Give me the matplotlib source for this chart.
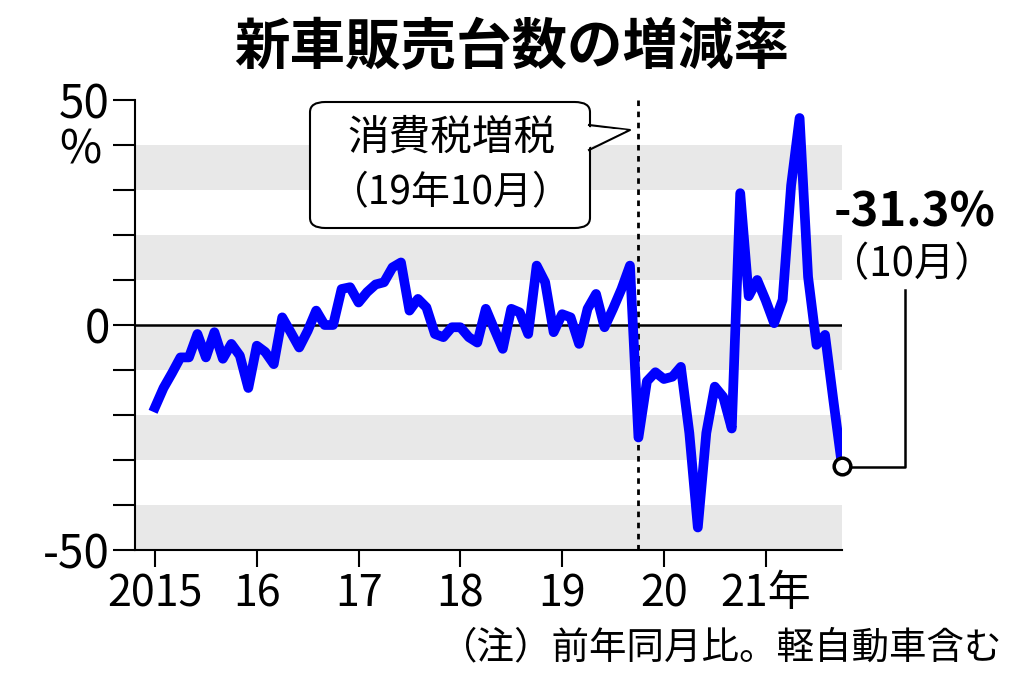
import numpy as np
import matplotlib.pyplot as plt
from matplotlib.patches import FancyBboxPatch

plt.rcParams['font.family'] = ['Noto Sans CJK JP', 'DejaVu Sans']

# monthly change vs same month previous year (%), Jan 2015 - Oct 2021
rate_2015 = [-18.3, -14, -10.7, -7.2, -7.2, -2, -7.2, -1.6, -7.5, -4.2, -6.8, -14]
rate_2016 = [-4.6, -6, -8.7, 1.7, -1.6, -5, -1.3, 3.2, 0, 0, 8, 8.4]
rate_2017 = [5, 7.3, 9, 9.5, 12.8, 13.9, 3.2, 5.8, 3.9, -2, -2.7, -0.5]
rate_2018 = [-0.5, -2.7, -3.9, 3.6, -0.9, -5.3, 3.6, 2.8, -2, 13.2, 9.5, -1.6]
rate_2019 = [2.4, 1.7, -4.2, 3.6, 6.9, -0.5, 3.6, 8, 13.2, -25, -12.5, -10.5]
rate_2020 = [-12, -11.5, -9.3, -24, -45, -24, -13.7, -16, -23, 29.3, 6.4, 10]
rate_2021 = [5.5, 0.4, 5.6, 31, 46, 10.7, -4.4, -2.2, -17, -31.3]
rates = rate_2015 + rate_2016 + rate_2017 + rate_2018 + rate_2019 + rate_2020 + rate_2021

year_ticks = [2015, 2016, 2017, 2018, 2019, 2020, 2021]
year_labels = ['2015', '16', '17', '18', '19', '20', '21年']

x = 2015 + np.arange(len(rates)) / 12

fig = plt.figure(figsize=(10.24, 6.78), dpi=100)
ax = fig.add_axes([135/1024, 1-550/678, (842-135)/1024, 450/678])

# gray bands
for lo in [30, 10, -10, -30, -50]:
    ax.axhspan(lo, lo + 10, color='#e8e8e8', lw=0, zorder=0)
ax.axhline(0, color='black', lw=1.8, zorder=1)
ax.axvline(2019 + 9/12, color='black', ls=(0, (2, 2)), lw=2, zorder=1)

ax.plot(x, rates, color='#0000ff', lw=7, solid_joinstyle='round', zorder=3)
ax.plot(x[-1], rates[-1], 'o', ms=12, mfc='white', mec='black', mew=2.5, zorder=4,
        clip_on=False)

ax.set_xlim(2015 - 20/101.7, 2021.75)
ax.set_ylim(-50, 50)
for s in ['top', 'right']:
    ax.spines[s].set_visible(False)
ax.spines['left'].set_linewidth(1.5)
ax.spines['bottom'].set_linewidth(1.5)
ax.set_yticks(np.arange(-50, 51, 10))
ax.set_yticklabels(['' if v not in (-50, 0, 50) else str(v) for v in range(-50, 51, 10)])
ax.tick_params(axis='y', length=16, width=1.5, labelsize=33, pad=2)
ax.set_xticks(year_ticks)
ax.set_xticklabels(year_labels)
ax.tick_params(axis='x', length=12, width=1.5, labelsize=31, pad=4)
fig.text(80/1024, 1-150/678, '%', fontsize=33, ha='center', va='center')

fig.text(512/1024, 1-48/678, '新車販売台数の増減率', fontsize=40, fontweight='bold',
         ha='center', va='center')

# callout
box = FancyBboxPatch((310/1024, 1-228/678), 280/1024, 126/678,
                     boxstyle='round,pad=0,rounding_size=0.015', transform=fig.transFigure,
                     fc='white', ec='black', lw=1.5, zorder=5)
fig.add_artist(box)
fig.add_artist(plt.Line2D([589/1024, 630/1024, 589/1024], [1-125/678, 1-130/678, 1-150/678],
                          transform=fig.transFigure, color='black', lw=1.5, zorder=6))
fig.add_artist(plt.Polygon([[588/1024, 1-127/678], [627/1024, 1-130/678], [588/1024, 1-148/678]],
                           closed=True, fc='white', ec='none', transform=fig.transFigure, zorder=6))
fig.text(451/1024, 1-138/678, '消費税増税', fontsize=30, ha='center', va='center', zorder=7)
fig.text(451/1024, 1-193/678, '（19年10月）', fontsize=28, ha='center', va='center', zorder=7)

# last value annotation
fig.text(915/1024, 1-213/678, '-31.3%', fontsize=34, fontweight='bold', ha='center', va='center')
fig.text(912/1024, 1-265/678, '（10月）', fontsize=29, ha='center', va='center')
fig.add_artist(plt.Line2D([850/1024, 905/1024, 905/1024], [1-467/678, 1-467/678, 1-290/678],
                          transform=fig.transFigure, color='black', lw=1.8))

fig.text(1002/1024, 1-648/678, '（注）前年同月比。軽自動車含む', fontsize=27, ha='right', va='center')

fig.savefig('out.png', dpi=100)
